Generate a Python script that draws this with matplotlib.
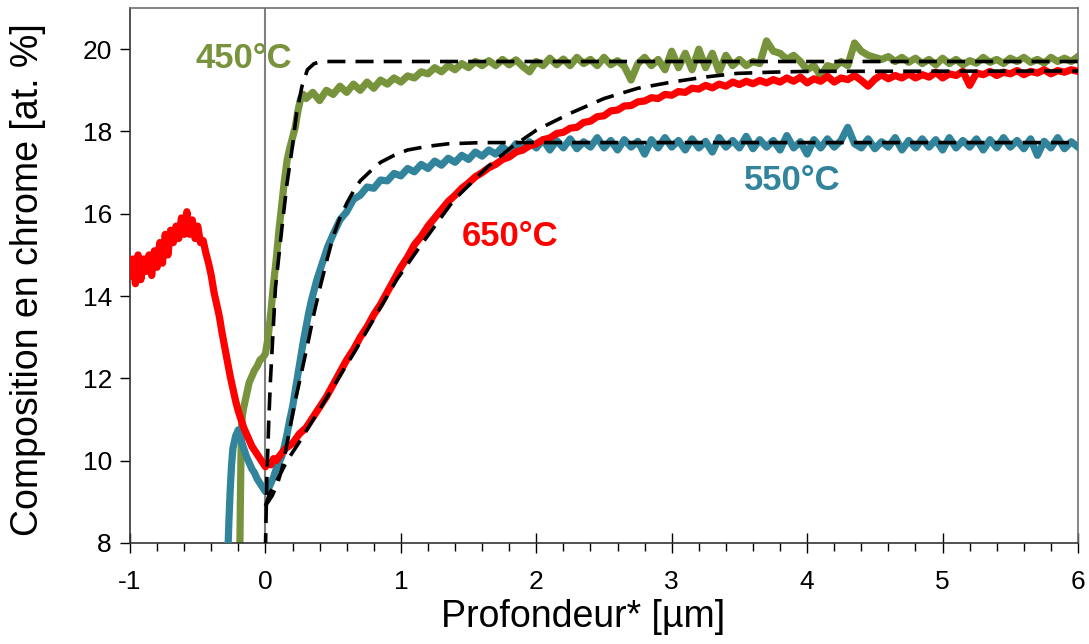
import numpy as np
import matplotlib
matplotlib.use("Agg")
import matplotlib.pyplot as plt
from matplotlib.ticker import MultipleLocator

plt.rcParams['font.family'] = ['Liberation Sans', 'DejaVu Sans']
plt.rcParams['axes.unicode_minus'] = False

# ---------------- data ----------------
# 450 °C measured profile
G450_RISE_X = [-0.19, -0.185, -0.18, -0.175, -0.17, -0.16, -0.14, -0.12, -0.10, -0.08, -0.06,
               -0.04, -0.02, 0.00, 0.02, 0.04, 0.06, 0.08, 0.10, 0.12, 0.14, 0.16, 0.18, 0.20,
               0.22, 0.24, 0.26, 0.28, 0.30]
G450_RISE_Y = [7.5, 9.0, 10.2, 10.9, 11.1, 11.3, 11.6, 11.9, 12.05, 12.2, 12.3,
               12.45, 12.5, 12.6, 13.0, 13.6, 14.3, 14.9, 15.6, 16.2, 16.8, 17.3, 17.6, 17.85,
               18.1, 18.5, 18.8, 18.9, 18.8]
G450_PLAT_X0, G450_STEP = 0.35, 0.05
G450_PLAT_Y = [18.95, 18.75, 19.0, 18.9, 19.1, 18.95, 19.15, 19.0, 19.2, 19.05, 19.25, 19.15, 19.3,
               19.2, 19.35, 19.3, 19.45, 19.4, 19.55, 19.45, 19.6, 19.5, 19.65, 19.55, 19.7, 19.6,
               19.72, 19.6, 19.75, 19.62, 19.74, 19.58, 19.45, 19.7, 19.6, 19.78, 19.62, 19.76,
               19.6, 19.8, 19.65, 19.75, 19.6, 19.8, 19.62, 19.72, 19.58, 19.25, 19.65, 19.8,
               19.6, 19.75, 19.5, 19.95, 19.55, 19.9, 19.5, 20.0, 19.55, 19.9, 19.45, 19.85, 19.6,
               19.75, 19.6, 19.7, 19.65, 20.2, 19.95, 19.9, 19.75, 19.85, 19.7, 19.5, 19.6, 19.35,
               19.6, 19.55, 19.7, 19.6, 20.15, 19.95, 19.85, 19.8, 19.75, 19.82, 19.7, 19.8, 19.68,
               19.78, 19.65, 19.75, 19.62, 19.78, 19.65, 19.75, 19.62, 19.72, 19.66, 19.8, 19.68,
               19.75, 19.65, 19.78, 19.7, 19.8, 19.68, 19.75, 19.66, 19.8, 19.7, 19.78, 19.7, 19.82]

# 550 °C measured profile
B550_RISE_X = [-0.28, -0.27, -0.26, -0.25, -0.24, -0.22, -0.20, -0.18, -0.16, -0.14, -0.12, -0.10,
               -0.08, -0.06, -0.04, -0.02, 0.00, 0.02, 0.04, 0.06, 0.08, 0.10, 0.12, 0.14, 0.16,
               0.18, 0.20, 0.22, 0.24, 0.26, 0.28, 0.30, 0.32, 0.34, 0.36, 0.38, 0.40, 0.42, 0.44,
               0.46, 0.48, 0.50]
B550_RISE_Y = [7.5, 8.5, 9.3, 9.9, 10.3, 10.6, 10.75, 10.5, 10.3, 10.1, 9.95, 9.8,
               9.7, 9.55, 9.45, 9.35, 9.25, 9.3, 9.45, 9.6, 9.8, 9.95, 10.1, 10.35, 10.65,
               11.0, 11.3, 11.7, 12.1, 12.5, 12.9, 13.25, 13.6, 13.9, 14.15, 14.4, 14.6, 14.8, 15.0,
               15.2, 15.35, 15.5]
B550_PLAT_X0, B550_STEP = 0.55, 0.05
B550_PLAT_Y = [15.85, 16.05, 16.35, 16.45, 16.65, 16.62, 16.82, 16.8, 16.98, 16.92, 17.1, 17.02,
               17.2, 17.1, 17.28, 17.18, 17.35, 17.25, 17.42, 17.32, 17.5, 17.4, 17.55, 17.45,
               17.62, 17.5, 17.7, 17.55, 17.75, 17.6, 17.8, 17.55, 17.78, 17.6, 17.82, 17.58,
               17.75, 17.62, 17.85, 17.6, 17.78, 17.55, 17.8, 17.62, 17.76, 17.45, 17.8, 17.6,
               17.85, 17.62, 17.78, 17.55, 17.82, 17.6, 17.76, 17.5, 17.85, 17.62, 17.78, 17.6,
               17.88, 17.58, 17.8, 17.62, 17.78, 17.55, 17.9, 17.6, 17.75, 17.45, 17.8, 17.6,
               17.82, 17.62, 17.78, 18.1, 17.7, 17.6, 17.82, 17.58, 17.75, 17.62, 17.85, 17.55,
               17.78, 17.6, 17.82, 17.62, 17.8, 17.55, 17.85, 17.6, 17.78, 17.62, 17.82, 17.55,
               17.8, 17.6, 17.85, 17.62, 17.78, 17.58, 17.82, 17.42, 17.76, 17.6, 17.85, 17.58,
               17.75, 17.62]

# 650 °C measured profile
R650_A_X0, R650_A_STEP = -1.00, 0.02
R650_A_Y = [14.5, 14.9, 14.3, 15.0, 14.4, 14.9, 14.6, 15.0, 14.5, 15.1, 14.7, 15.3, 14.8, 15.5,
            15.0, 15.6, 15.3, 15.7, 15.4, 15.9, 15.5, 16.05, 15.5, 15.85, 15.4, 15.7, 15.3, 15.35,
            15.05, 14.8, 14.5, 14.1, 13.8, 13.5, 13.1, 12.75, 12.4, 12.05, 11.75, 11.45, 11.2,
            11.0, 10.8, 10.65, 10.5, 10.35, 10.25, 10.15, 10.05, 9.95, 9.85, 9.95, 9.9, 10.05,
            10.0, 10.1]
R650_B_X0, R650_B_STEP = 0.15, 0.05
R650_B_Y = [10.3, 10.42, 10.65, 10.8, 11.05, 11.3, 11.55, 11.85, 12.15, 12.45, 12.7, 13.0, 13.25,
            13.55, 13.8, 14.1, 14.4, 14.7, 14.95, 15.25, 15.45, 15.7, 15.9, 16.1, 16.3, 16.45,
            16.62, 16.75, 16.9, 17.0, 17.12, 17.2, 17.32, 17.38, 17.5, 17.55, 17.65, 17.7, 17.8,
            17.84, 17.95, 17.98, 18.08, 18.1, 18.22, 18.25, 18.36, 18.38, 18.5, 18.52, 18.62,
            18.63, 18.72, 18.74, 18.82, 18.8, 18.9, 18.88, 18.97, 18.95, 19.05, 19.03, 19.12,
            19.06, 19.15, 19.1, 19.2, 19.14, 19.22, 19.16, 19.24, 19.18, 19.26, 19.2, 19.3, 19.22,
            19.32, 19.18, 19.28, 19.22, 19.34, 19.2, 19.3, 19.26, 19.36, 19.24, 19.1, 19.27, 19.38,
            19.28, 19.36, 19.3, 19.4, 19.3, 19.38, 19.32, 19.44, 19.3, 19.4, 19.36, 19.46, 19.12,
            19.42, 19.38, 19.46, 19.36, 19.44, 19.4, 19.48, 19.38, 19.46, 19.42, 19.5, 19.4, 19.48,
            19.44, 19.5, 19.46]

# fitted profiles (dashed)
FIT450_X = [0.0, 0.01, 0.025, 0.037, 0.05, 0.074, 0.10, 0.13, 0.16, 0.20, 0.23, 0.27, 0.31,
            0.36, 0.42, 6.0]
FIT450_Y = [7.8, 9.5, 11.0, 11.95, 12.75, 14.2, 15.0, 15.9, 16.75, 17.65, 18.45, 19.1, 19.5,
            19.65, 19.7, 19.7]
FIT550_X = [0.0, 0.02, 0.05, 0.09, 0.13, 0.17, 0.21, 0.26, 0.31, 0.36, 0.41, 0.46, 0.50, 0.55,
            0.60, 0.65, 0.70, 0.78, 0.85, 0.95, 1.05, 1.20, 1.35, 1.60, 6.0]
FIT550_Y = [8.9, 9.0, 9.15, 9.45, 9.9, 10.6, 11.3, 12.05, 12.8, 13.6, 14.3, 14.95, 15.45, 15.9,
            16.25, 16.55, 16.8, 17.05, 17.25, 17.42, 17.55, 17.64, 17.7, 17.73, 17.73]
FIT650_X = [0.0, 0.03, 0.09, 0.16, 0.24, 0.41, 0.65, 0.97, 1.14, 1.39, 1.64, 1.81, 2.0, 2.25,
            2.5, 2.75, 3.0, 3.24, 3.48, 3.73, 4.0, 6.0]
FIT650_Y = [8.9, 9.2, 9.55, 10.0, 10.4, 11.3, 12.6, 14.4, 15.2, 16.33, 17.14, 17.6, 18.03, 18.44,
            18.8, 19.05, 19.2, 19.32, 19.41, 19.44, 19.46, 19.47]

LABELS = ["450°C", "550°C", "650°C"]
LABEL_POS = [(-0.16, 19.78), (3.89, 16.82), (1.81, 15.45)]
GREEN, BLUE, RED = "#77933C", "#31849B", "#FF0000"


def grid(x0, step, ys):
    return x0 + step * np.arange(len(ys))


g_x = np.concatenate([G450_RISE_X, grid(G450_PLAT_X0, G450_STEP, G450_PLAT_Y)])
g_y = np.concatenate([G450_RISE_Y, G450_PLAT_Y])
b_x = np.concatenate([B550_RISE_X, grid(B550_PLAT_X0, B550_STEP, B550_PLAT_Y)])
b_y = np.concatenate([B550_RISE_Y, B550_PLAT_Y])
r_x = np.concatenate([grid(R650_A_X0, R650_A_STEP, R650_A_Y), grid(R650_B_X0, R650_B_STEP, R650_B_Y)])
r_y = np.concatenate([R650_A_Y, R650_B_Y])

# ---------------- figure ----------------
fig = plt.figure(figsize=(10.89, 6.44), dpi=100)
ax = fig.add_axes([130 / 1089, 1 - 543 / 644, (1078 - 130) / 1089, (543 - 8) / 644])

ax.axvline(0, color="#808080", lw=1.5, zorder=1)

lw = 5.2
ax.plot(g_x, g_y, color=GREEN, lw=lw, solid_joinstyle="round", zorder=2)
ax.plot(b_x, b_y, color=BLUE, lw=lw, solid_joinstyle="round", zorder=3)
ax.plot(r_x, r_y, color=RED, lw=lw, solid_joinstyle="round", zorder=4)

dash = (0, (5, 2.8))
for fx, fy in [(FIT450_X, FIT450_Y), (FIT550_X, FIT550_Y), (FIT650_X, FIT650_Y)]:
    ax.plot(fx, fy, color="black", lw=2.6, linestyle=dash, zorder=5)

for lab, (tx, ty), col in zip(LABELS, LABEL_POS, [GREEN, BLUE, RED]):
    ax.text(tx, ty, lab, color=col, fontsize=25, fontweight="bold", ha="center", va="center", zorder=6)

ax.set_xlim(-1, 6)
ax.set_ylim(8, 21)
ax.xaxis.set_major_locator(MultipleLocator(1))
ax.xaxis.set_minor_locator(MultipleLocator(0.2))
ax.set_yticks([8, 10, 12, 14, 16, 18, 20])

ax.tick_params(axis="x", which="major", direction="inout", length=15, width=1, labelsize=19, pad=12)
ax.tick_params(axis="x", which="minor", direction="out", length=6, width=1)
ax.tick_params(axis="y", which="major", direction="out", length=7, width=1, labelsize=19, pad=6)

for s in ["left", "bottom"]:
    ax.spines[s].set_color("#333333")
    ax.spines[s].set_linewidth(1.2)
for s in ["top", "right"]:
    ax.spines[s].set_color("#707070")
    ax.spines[s].set_linewidth(1.2)

ax.set_xlabel("Profondeur* [µm]", fontsize=27, labelpad=2)
ax.xaxis.set_label_coords(0.478, -0.105)
ax.set_ylabel("Composition en chrome [at. %]", fontsize=27, labelpad=10)
ax.yaxis.set_label_coords(-0.089, 0.493)

fig.savefig("out.png", dpi=100)
